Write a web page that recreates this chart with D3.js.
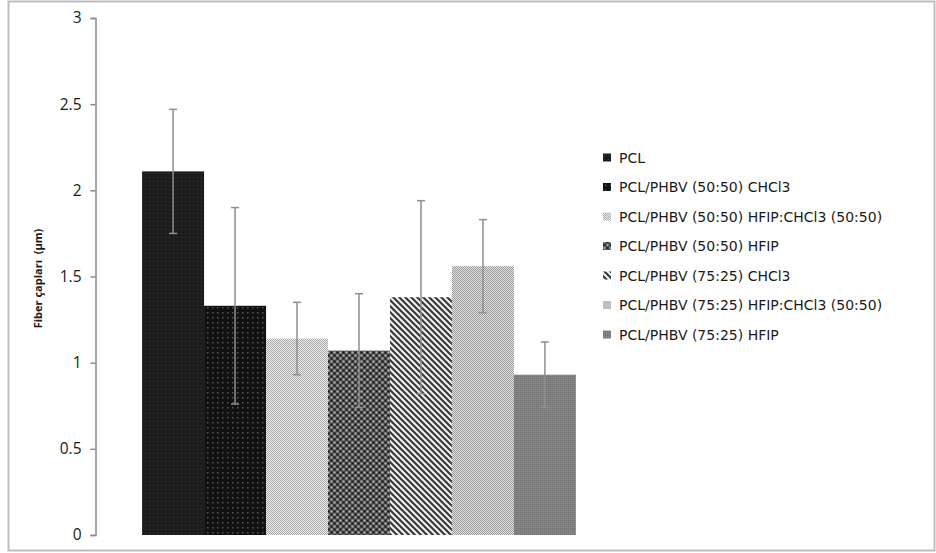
<!DOCTYPE html>
<html>
<head>
<meta charset="utf-8">
<script src="https://cdn.jsdelivr.net/npm/d3@7/dist/d3.min.js"></script>
<style>
  html, body { margin: 0; padding: 0; background: #fff; }
  svg { display: block; }
  text { fill: #1a1a1a; }
</style>
</head>
<body>
<svg id="chart" width="936" height="553"></svg>
<script>
// Fibre diameter per electrospun formulation (µm), with ± standard deviation
const series = [
  "PCL",
  "PCL/PHBV (50:50) CHCl3",
  "PCL/PHBV (50:50) HFIP:CHCl3 (50:50)",
  "PCL/PHBV (50:50) HFIP",
  "PCL/PHBV (75:25) CHCl3",
  "PCL/PHBV (75:25) HFIP:CHCl3 (50:50)",
  "PCL/PHBV (75:25) HFIP"
];
const means = [2.11, 1.33, 1.14, 1.07, 1.38, 1.56, 0.93];
const errors = [0.36, 0.57, 0.21, 0.33, 0.56, 0.27, 0.19];
const yTicks = [0, 0.5, 1, 1.5, 2, 2.5, 3];
const yTitle = "Fiber çapları  (µm)";

const svg = d3.select("#chart");

// outer frame
svg.append("rect")
  .attr("x", 8.5).attr("y", 1.5).attr("width", 926).attr("height", 549)
  .attr("fill", "#fff").attr("stroke", "#bdbdbd").attr("stroke-width", 2);

// fill patterns, one per formulation
const defs = svg.append("defs");
function pat(id, size, draw) {
  const p = defs.append("pattern").attr("id", id)
    .attr("patternUnits", "userSpaceOnUse").attr("width", size).attr("height", size);
  draw(p);
}
pat("p0", 4, p => {
  p.append("rect").attr("width", 4).attr("height", 4).attr("fill", "#1c1c1c");
  p.append("rect").attr("x", 1).attr("y", 1).attr("width", 1).attr("height", 1).attr("fill", "#3a3a3a");
});
pat("p1", 5, p => {
  p.append("rect").attr("width", 5).attr("height", 5).attr("fill", "#111");
  p.append("rect").attr("x", 2).attr("y", 2).attr("width", 1.5).attr("height", 1.5).attr("fill", "#555");
});
pat("p2", 2, p => {
  p.append("rect").attr("width", 2).attr("height", 2).attr("fill", "#eeeeee");
  p.append("rect").attr("width", 1).attr("height", 1).attr("fill", "#a8a8a8");
  p.append("rect").attr("x", 1).attr("y", 1).attr("width", 1).attr("height", 1).attr("fill", "#a8a8a8");
});
pat("p3", 6, p => {
  p.append("rect").attr("width", 6).attr("height", 6).attr("fill", "#4a4a4a");
  p.append("circle").attr("cx", 1.5).attr("cy", 1.5).attr("r", 1.2).attr("fill", "#aaa");
  p.append("circle").attr("cx", 4.5).attr("cy", 4.5).attr("r", 1.2).attr("fill", "#aaa");
  p.append("circle").attr("cx", 4.5).attr("cy", 1.5).attr("r", 1.1).attr("fill", "#1a1a1a");
  p.append("circle").attr("cx", 1.5).attr("cy", 4.5).attr("r", 1.1).attr("fill", "#1a1a1a");
});
pat("p4", 6, p => {
  p.append("rect").attr("width", 6).attr("height", 6).attr("fill", "#f2f2f2");
  p.append("path").attr("d", "M-1,-1 L7,7 M-1,5 L1,7 M5,-1 L7,1")
    .attr("stroke", "#3a3a3a").attr("stroke-width", 2.2);
});
pat("p5", 2, p => {
  p.append("rect").attr("width", 2).attr("height", 2).attr("fill", "#e2e2e2");
  p.append("rect").attr("width", 1).attr("height", 1).attr("fill", "#9a9a9a");
  p.append("rect").attr("x", 1).attr("y", 1).attr("width", 1).attr("height", 1).attr("fill", "#9a9a9a");
});
pat("p6", 2, p => {
  p.append("rect").attr("width", 2).attr("height", 2).attr("fill", "#858585");
  p.append("rect").attr("width", 1).attr("height", 1).attr("fill", "#6f6f6f");
});

// scales
const y = d3.scaleLinear().domain([0, 3]).range([535, 18]);
const x = d3.scaleBand().domain(series).range([95, 623]).paddingInner(0).paddingOuter(0.76);

// y axis
const yAxis = d3.axisLeft(y).tickValues(yTicks).tickSize(5).tickPadding(9)
  .tickFormat(d => String(d));
const ya = svg.append("g").attr("transform", "translate(95.5,0)").call(yAxis);
ya.select(".domain").attr("stroke", "#8a8a8a").attr("stroke-width", 1.5);
ya.selectAll(".tick line").attr("stroke", "#8a8a8a").attr("stroke-width", 1.5);
ya.selectAll(".tick text")
  .style("font-family", "'Open Sans', sans-serif")
  .style("font-size", "15.5px")
  .style("fill", "#1a1a1a");

// bars
svg.append("g").selectAll("rect").data(series).join("rect")
  .attr("x", d => x(d))
  .attr("y", (d, i) => y(means[i]))
  .attr("width", x.bandwidth())
  .attr("height", (d, i) => y(0) - y(means[i]))
  .attr("fill", (d, i) => `url(#p${i})`);

// error bars
const eb = svg.append("g").attr("stroke", "#8f8f8f").attr("stroke-width", 1.5);
series.forEach((s, i) => {
  const cx = x(s) + x.bandwidth() / 2;
  const hi = y(means[i] + errors[i]), lo = y(means[i] - errors[i]);
  eb.append("line").attr("x1", cx).attr("x2", cx).attr("y1", hi).attr("y2", lo);
  eb.append("line").attr("x1", cx - 4).attr("x2", cx + 4).attr("y1", hi).attr("y2", hi);
  eb.append("line").attr("x1", cx - 4).attr("x2", cx + 4).attr("y1", lo).attr("y2", lo);
});

// y title
svg.append("text")
  .attr("transform", `translate(42,${(y(0) + y(3)) / 2 + 2}) rotate(-90)`)
  .attr("text-anchor", "middle")
  .style("white-space", "pre")
  .style("font-family", "'Open Sans', sans-serif")
  .style("font-size", "11px")
  .style("font-weight", "bold")
  .text(yTitle);

// legend
const lg = svg.append("g").attr("transform", "translate(603,158)");
const rowH = 29.5;
series.forEach((s, i) => {
  const g = lg.append("g").attr("transform", `translate(0,${i * rowH})`);
  g.append("rect").attr("x", 0).attr("y", -4.5).attr("width", 8).attr("height", 8)
    .attr("fill", `url(#p${i})`);
  g.append("text").attr("x", 16).attr("y", 0).attr("dy", "0.35em")
    .style("font-family", "'DejaVu Sans', sans-serif")
    .style("font-size", "14px")
    .text(s);
});
</script>
</body>
</html>
